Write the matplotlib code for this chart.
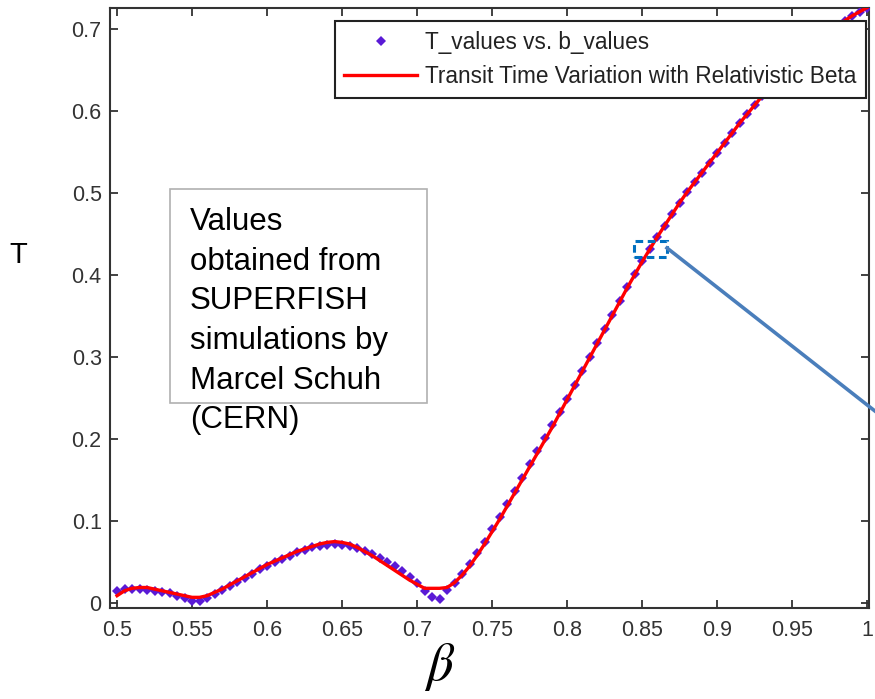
import numpy as np
import matplotlib
matplotlib.use("Agg")
import matplotlib.pyplot as plt
from matplotlib.patches import Rectangle
from matplotlib.lines import Line2D

plt.rcParams['font.family'] = ['Liberation Sans', 'DejaVu Sans']
plt.rcParams['mathtext.fontset'] = 'stix'

# beta grid of the SUPERFISH points (0.5 ... 1.0, step 0.005)
b_values = np.round(np.arange(0, 101) * 0.005 + 0.5, 3)

T_values = [
    0.015, 0.017, 0.017, 0.017, 0.016, 0.015, 0.014, 0.012, 0.009, 0.006,
    0.003, 0.003, 0.006, 0.011, 0.016, 0.021, 0.026, 0.031, 0.036, 0.041,
    0.045, 0.050, 0.054, 0.058, 0.062, 0.065, 0.068, 0.070, 0.071, 0.072,
    0.071, 0.070, 0.067, 0.064, 0.060, 0.055, 0.050, 0.045, 0.039, 0.032,
    0.024, 0.015, 0.007, 0.005, 0.016, 0.025, 0.036, 0.048, 0.061, 0.075,
    0.090, 0.105, 0.121, 0.137, 0.153, 0.169, 0.185, 0.201, 0.217, 0.233,
    0.249, 0.266, 0.283, 0.300, 0.317, 0.334, 0.351, 0.368, 0.385, 0.401,
    0.417, 0.432, 0.446, 0.460, 0.474, 0.488, 0.501, 0.513, 0.525, 0.537,
    0.549, 0.561, 0.573, 0.585, 0.596, 0.607, 0.618, 0.628, 0.638, 0.648,
    0.657, 0.666, 0.674, 0.682, 0.690, 0.697, 0.704, 0.710, 0.716, 0.721,
    0.726,
]

T_fit = [
    0.009, 0.015, 0.018, 0.019, 0.019, 0.017, 0.015, 0.013, 0.011, 0.009,
    0.007, 0.007, 0.009, 0.013, 0.017, 0.022, 0.027, 0.032, 0.037, 0.042,
    0.047, 0.051, 0.055, 0.059, 0.063, 0.066, 0.069, 0.072, 0.074, 0.075,
    0.074, 0.072, 0.068, 0.063, 0.058, 0.052, 0.046, 0.040, 0.034, 0.028,
    0.023, 0.018, 0.018, 0.018, 0.019, 0.025, 0.034, 0.045, 0.058, 0.072,
    0.087, 0.102, 0.118, 0.134, 0.150, 0.166, 0.182, 0.198, 0.214, 0.231,
    0.248, 0.265, 0.282, 0.299, 0.316, 0.333, 0.350, 0.367, 0.384, 0.400,
    0.416, 0.431, 0.446, 0.460, 0.474, 0.488, 0.501, 0.513, 0.525, 0.537,
    0.549, 0.561, 0.573, 0.585, 0.596, 0.607, 0.618, 0.628, 0.638, 0.648,
    0.657, 0.666, 0.674, 0.682, 0.690, 0.697, 0.704, 0.710, 0.716, 0.721,
    0.726,
]

x_ticks = [0.5, 0.55, 0.6, 0.65, 0.7, 0.75, 0.8, 0.85, 0.9, 0.95, 1.0]
x_labels = ['0.5', '0.55', '0.6', '0.65', '0.7', '0.75', '0.8', '0.85', '0.9', '0.95', '1']
y_ticks = [0, 0.1, 0.2, 0.3, 0.4, 0.5, 0.6, 0.7]
y_labels = ['0', '0.1', '0.2', '0.3', '0.4', '0.5', '0.6', '0.7']

note = "Values\nobtained from\nSUPERFISH\nsimulations by\nMarcel Schuh\n(CERN)"

fig = plt.figure(figsize=(8.75, 6.99), dpi=100)
W, H = 875, 699
ax = fig.add_axes([110 / W, 1 - 608 / H, 759 / W, 600 / H])

ax.plot(b_values, T_values, linestyle='none', marker='D', markersize=5,
        color='#5a1ad6', markeredgewidth=0, label='T_values vs. b_values', zorder=3)
ax.plot(b_values, T_fit, color='#ff0000', linewidth=2.4,
        label='Transit Time Variation with Relativistic Beta', zorder=4)

ax.set_xlim(0.4953, 1.0013)
ax.set_ylim(-0.006, 0.7256)
ax.set_xticks(x_ticks)
ax.set_xticklabels(x_labels)
ax.set_yticks(y_ticks)
ax.set_yticklabels(y_labels)
ax.tick_params(direction='in', length=6, width=1.3, top=True, right=True,
               labelsize=15.5, colors='#333333')
ax.tick_params(axis='x', pad=9)
ax.tick_params(axis='y', pad=6)
for s in ax.spines.values():
    s.set_linewidth(1.5)
    s.set_color('#333333')

leg = ax.legend(loc='upper right', bbox_to_anchor=(0.996, 0.978), fontsize=16.3,
                frameon=True, fancybox=False, edgecolor='#222222', framealpha=1,
                handlelength=3.2, handletextpad=0.36, borderpad=0.42,
                labelspacing=0.5, borderaxespad=0)
leg.get_frame().set_linewidth(1.5)
leg.set_zorder(10)
for t in leg.get_texts():
    t.set_color('#222222')

# text box (rectangle drawn separately; text spills past it as in the slide)
fig.add_artist(Rectangle((170 / W, 1 - 403 / H), 257 / W, 214 / H,
                         transform=fig.transFigure, fill=True, facecolor='white',
                         edgecolor='#b0b0b0', linewidth=1.2, zorder=5))
fig.text(190 / W, 1 - 207 / H, note, fontsize=22.5, va='top', ha='left',
         linespacing=1.42, color='black', zorder=6)

fig.text(18 / W, 1 - 255 / H, 'T', fontsize=21, ha='center', va='center')
fig.text(440 / W, 1 - 667 / H, r'$\beta$', fontsize=38, ha='center', va='center')

# zoom marker and pointer line
fig.add_artist(Rectangle((634 / W, 1 - 257 / H), 33 / W, 16 / H,
                         transform=fig.transFigure, fill=False, edgecolor='#0070c0',
                         linewidth=2.2, linestyle=(0, (2.5, 1.5)), zorder=7))
fig.add_artist(Line2D([667 / W, 880 / W], [1 - 248 / H, 1 - 415 / H],
                      transform=fig.transFigure, color='#4a7ebb', linewidth=2.6, zorder=7))

fig.savefig('out.png', dpi=100)
